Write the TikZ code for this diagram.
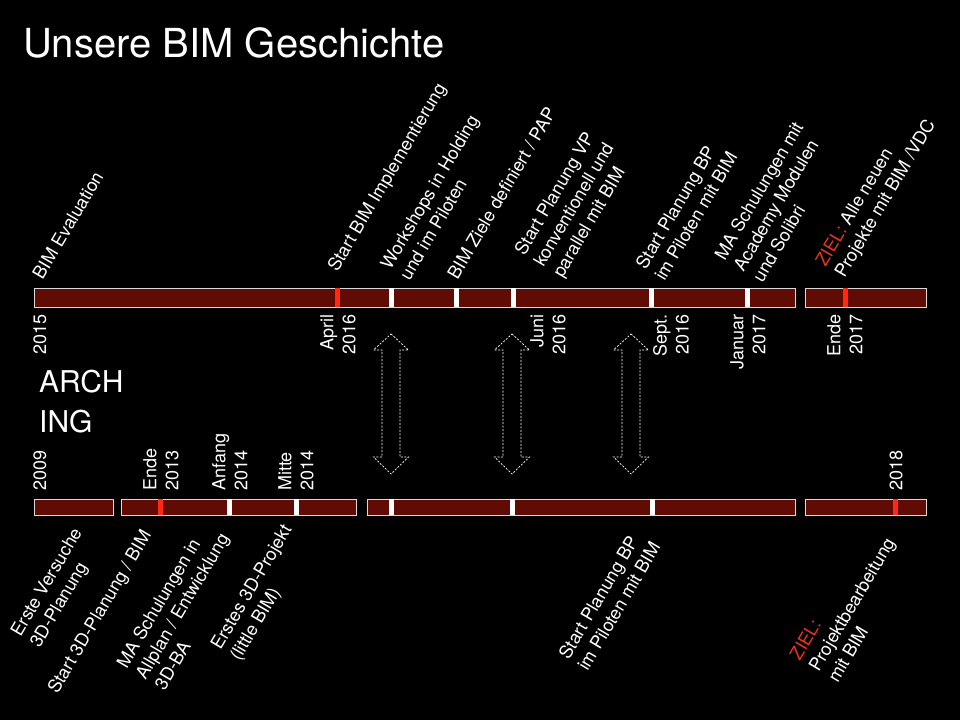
\documentclass[tikz,border=0pt]{standalone}
\usepackage{fontspec}
\setmainfont{TeX Gyre Heros}
\usepackage{tikz}
\usetikzlibrary{positioning}
\definecolor{balkenrot}{RGB}{96,12,5}
\definecolor{markrot}{RGB}{255,42,16}
\definecolor{zielrot}{RGB}{232,52,28}
\tikzstyle{balken} = [draw=white!85!black, fill=balkenrot, line width=1.1pt, inner sep=0pt, anchor=north west]
\tikzstyle{marke} = [fill=white, inner sep=0pt, minimum width=5pt]
\tikzstyle{rotmarke} = [fill=markrot, inner sep=0pt, minimum width=5pt]
\tikzstyle{datum} = [text=white, font=\fontsize{18}{22}\selectfont, rotate=90, inner sep=0pt]
\tikzstyle{ereignis} = [text=white, font=\fontsize{18}{22}\selectfont, rotate=59.5, align=left, anchor=south west, inner sep=0pt]
\tikzstyle{pfeil} = [draw=white, line width=0.7pt, dash pattern=on 2pt off 1.5pt, line join=miter]
\newcommand{\doppelpfeil}[1]{%
  \draw[pfeil] (#1,334) -- (#1+17.5,350) -- (#1+9,350) -- (#1+9,457) -- (#1+17.5,457) -- (#1,474)
    -- (#1-17.5,457) -- (#1-9,457) -- (#1-9,350) -- (#1-17.5,350) -- cycle;}

\begin{document}
\begin{tikzpicture}[x=1pt,y=-1pt]

	\fill[black] (0,0) rectangle (960,720);

	\node (Titre) [anchor=base west, text=white, font=\fontsize{40}{44}\selectfont, inner sep=0pt] at (23,57) {Unsere BIM Geschichte};

	\node (arch) [anchor=base west, text=white, font=\fontsize{30}{34}\selectfont, inner sep=0pt] at (39,392) {ARCH};
	\node (ing) [anchor=base west, text=white, font=\fontsize{30}{34}\selectfont, inner sep=0pt] at (39,432) {ING};

	%% Balken ARCH
	\node[balken, minimum width=761pt, minimum height=18.5pt] (top1) at (34,288.3) {};
	\node[balken, minimum width=121pt, minimum height=18.5pt] (top2) at (805,288.3) {};

	\node[rotmarke, minimum height=18.5pt] (t1) at (337,297.5) {};
	\node[marke, minimum height=18.5pt] (t2) at (391,297.5) {};
	\node[marke, minimum height=18.5pt] (t3) at (456,297.5) {};
	\node[marke, minimum height=18.5pt] (t4) at (513,297.5) {};
	\node[marke, minimum height=18.5pt] (t5) at (651,297.5) {};
	\node[marke, minimum height=18.5pt] (t6) at (747,297.5) {};
	\node[rotmarke, minimum height=18.5pt] (t7) at (845,297.5) {};

	%% Balken ING
	\node[balken, minimum width=79pt, minimum height=16pt] (bot1) at (34,499) {};
	\node[balken, minimum width=235pt, minimum height=16pt] (bot2) at (121,499) {};
	\node[balken, minimum width=428pt, minimum height=16pt] (bot3) at (367,499) {};
	\node[balken, minimum width=121pt, minimum height=16pt] (bot4) at (805,499) {};

	\node[rotmarke, minimum height=16pt] (b1) at (160,507) {};
	\node[marke, minimum height=16pt] (b2) at (229,507) {};
	\node[marke, minimum height=16pt] (b3) at (296,507) {};
	\node[marke, minimum height=16pt] (b4) at (391,507) {};
	\node[marke, minimum height=16pt] (b5) at (512,507) {};
	\node[marke, minimum height=16pt] (b6) at (652,507) {};
	\node[rotmarke, minimum height=16pt] (b7) at (895,507) {};

	%% Daten
	\node[datum, anchor=east, align=right] (d1) at (40,314) {2015};
	\node[datum, anchor=east, align=right] (d2) at (338,314) {April\\2016};
	\node[datum, anchor=east, align=right] (d3) at (548,314) {Juni\\2016};
	\node[datum, anchor=east, align=right] (d4) at (671,314) {Sept.\\2016};
	\node[datum, anchor=east, align=right] (d5) at (748,314) {Januar\\2017};
	\node[datum, anchor=east, align=right] (d6) at (845,314) {Ende\\2017};

	\node[datum, anchor=west, align=left] (e1) at (40,491) {2009};
	\node[datum, anchor=west, align=left] (e2) at (161,491) {Ende\\2013};
	\node[datum, anchor=west, align=left] (e3) at (230,491) {Anfang\\2014};
	\node[datum, anchor=west, align=left] (e4) at (296,491) {Mitte\\2014};
	\node[datum, anchor=west, align=left] (e5) at (896,491) {2018};

	%% Ereignisse ARCH
	\node[ereignis] (a1) at (43,281) {BIM Evaluation};
	\node[ereignis] (a2) at (341,275) {Start BIM Implementierung};
	\node[ereignis] (a3) at (410,282) {Workshops in Holding\\und im Piloten};
	\node[ereignis] (a4) at (458,281) {BIM Ziele definiert / PAP};
	\node[ereignis] (a5) at (566,281) {Start Planung VP\\konventionell und\\parallel mit BIM};
	\node[ereignis] (a6) at (665,282) {Start Planung BP\\im Piloten mit BIM};
	\node[ereignis] (a7) at (763,284) {MA Schulungen mit\\Academy Modulen\\und Solibri};
	\node[ereignis] (a8) at (848,281) {{\color{zielrot}ZIEL:} Alle neuen\\Projekte mit BIM /VDC};

	%% Ereignisse ING
	\node[ereignis] (i1) at (43,651) {Erste Versuche\\3D-Planung};
	\node[ereignis] (i2) at (61,697) {Start 3D-Planung / BIM};
	\node[ereignis] (i3) at (165,692) {MA Schulungen in\\Allplan / Entwicklung\\3D-BA};
	\node[ereignis] (i4) at (243,664) {Erstes 3D-Projekt\\(little BIM)};
	\node[ereignis] (i5) at (588,672) {Start Planung BP\\im Piloten mit BIM};
	\node[ereignis] (i6) at (838,684) {{\color{zielrot}ZIEL:}\\Projektbearbeitung\\mit BIM};

	%% Pfeile
	\doppelpfeil{391}
	\doppelpfeil{512}
	\doppelpfeil{631}

\end{tikzpicture}
\end{document}
